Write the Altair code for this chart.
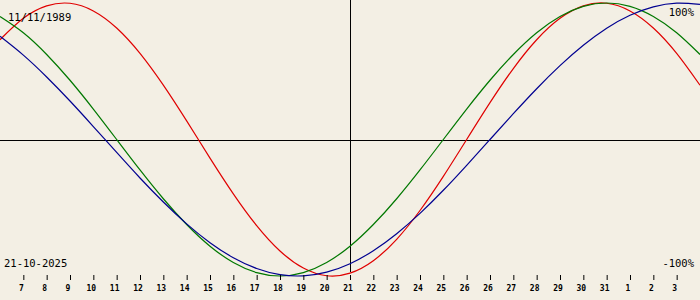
import altair as alt
import pandas as pd

# day positions (0 = 6 Oct ... 30 = 5 Nov)
day_index = list(range(31))

physical = [0.731, 0.888, 0.979, 0.998, 0.942, 0.817, 0.631, 0.398, 0.136, -0.136,
            -0.398, -0.631, -0.817, -0.942, -0.998, -0.979, -0.888, -0.731, -0.520, -0.270,
            0.0, 0.270, 0.520, 0.731, 0.888, 0.979, 0.998, 0.942, 0.817, 0.631, 0.398]
emotional = [0.901, 0.782, 0.623, 0.434, 0.223, 0.0, -0.223, -0.434, -0.623, -0.782,
             -0.901, -0.975, -1.0, -0.975, -0.901, -0.782, -0.623, -0.434, -0.223, 0.0,
             0.223, 0.434, 0.623, 0.782, 0.901, 0.975, 1.0, 0.975, 0.901, 0.782, 0.623]
intellectual = [0.756, 0.618, 0.458, 0.282, 0.095, -0.095, -0.282, -0.458, -0.618, -0.756,
                -0.866, -0.945, -0.990, -0.999, -0.972, -0.910, -0.815, -0.690, -0.541, -0.372,
                -0.189, 0.0, 0.189, 0.372, 0.541, 0.690, 0.815, 0.910, 0.972, 0.999, 0.990]

tick_index = list(range(1, 30))
tick_labels = ["7", "8", "9", "10", "11", "12", "13", "14", "15", "16", "17", "18", "19",
               "20", "21", "22", "23", "24", "25", "26", "26", "27", "28", "29", "30", "31",
               "1", "2", "3"]
today_index = [15]

birth_text = ["11/11/1989"]
date_text = ["21-10-2025"]
top_text = ["100%"]
bottom_text = ["-100%"]

series_names = ["physical", "emotional", "intellectual"]
series_colors = ["#e00000", "#007800", "#000090"]

rows = []
for name, vals in zip(series_names, [physical, emotional, intellectual]):
    for i, v in zip(day_index, vals):
        rows.append({"i": i, "v": v, "s": name})
df = pd.DataFrame(rows)
tdf = pd.DataFrame({"i": tick_index, "label": tick_labels})

xscale = alt.Scale(domain=[0, 30], nice=False, zero=False)
yscale = alt.Scale(domain=[-1.1758, 1.022], nice=False, zero=False)
X = lambda: alt.X("i:Q", scale=xscale, axis=None)

zero_line = alt.Chart(pd.DataFrame({"v": [0.0]})).mark_rule(
    color="black", strokeWidth=1, yOffset=1
).encode(y=alt.Y("v:Q", scale=yscale, axis=None))

today_line = alt.Chart(pd.DataFrame({"i": today_index})).mark_rule(
    color="black", strokeWidth=1, xOffset=0.5
).encode(x=X(), y=alt.value(0), y2=alt.value(272))

lines = alt.Chart(df).mark_line(strokeWidth=1.2, interpolate="natural").encode(
    x=X(),
    y=alt.Y("v:Q", scale=yscale, axis=None),
    color=alt.Color("s:N", scale=alt.Scale(domain=series_names, range=series_colors), legend=None),
    detail="s:N",
)

ticks = alt.Chart(tdf).mark_rule(color="black", strokeWidth=1, xOffset=0.5).encode(
    x=X(), y=alt.value(275), y2=alt.value(280)
)
tick_text = alt.Chart(tdf).mark_text(
    font="DejaVu Sans Mono", fontSize=8, fontWeight="bold", dx=-2,
    baseline="alphabetic", align="center", color="black"
).encode(x=X(), y=alt.value(291), text="label:N")

def label(txt, x, y, align):
    return alt.Chart(pd.DataFrame({"t": txt})).mark_text(
        font="DejaVu Sans Mono", fontSize=10.5, align=align, baseline="alphabetic", color="black"
    ).encode(x=alt.value(x), y=alt.value(y), text="t:N")

chart = alt.layer(
    zero_line, today_line, lines, ticks, tick_text,
    label(birth_text, 8, 21, "left"),
    label(date_text, 4, 267, "left"),
    label(top_text, 694, 16, "right"),
    label(bottom_text, 694, 267, "right"),
).properties(
    width=700, height=300, background="#f3efe4", padding=0,
    autosize=alt.AutoSizeParams(type="none"),
).configure_view(stroke=None)

chart.save("out.html", embed_options={"renderer": "svg", "actions": False})
